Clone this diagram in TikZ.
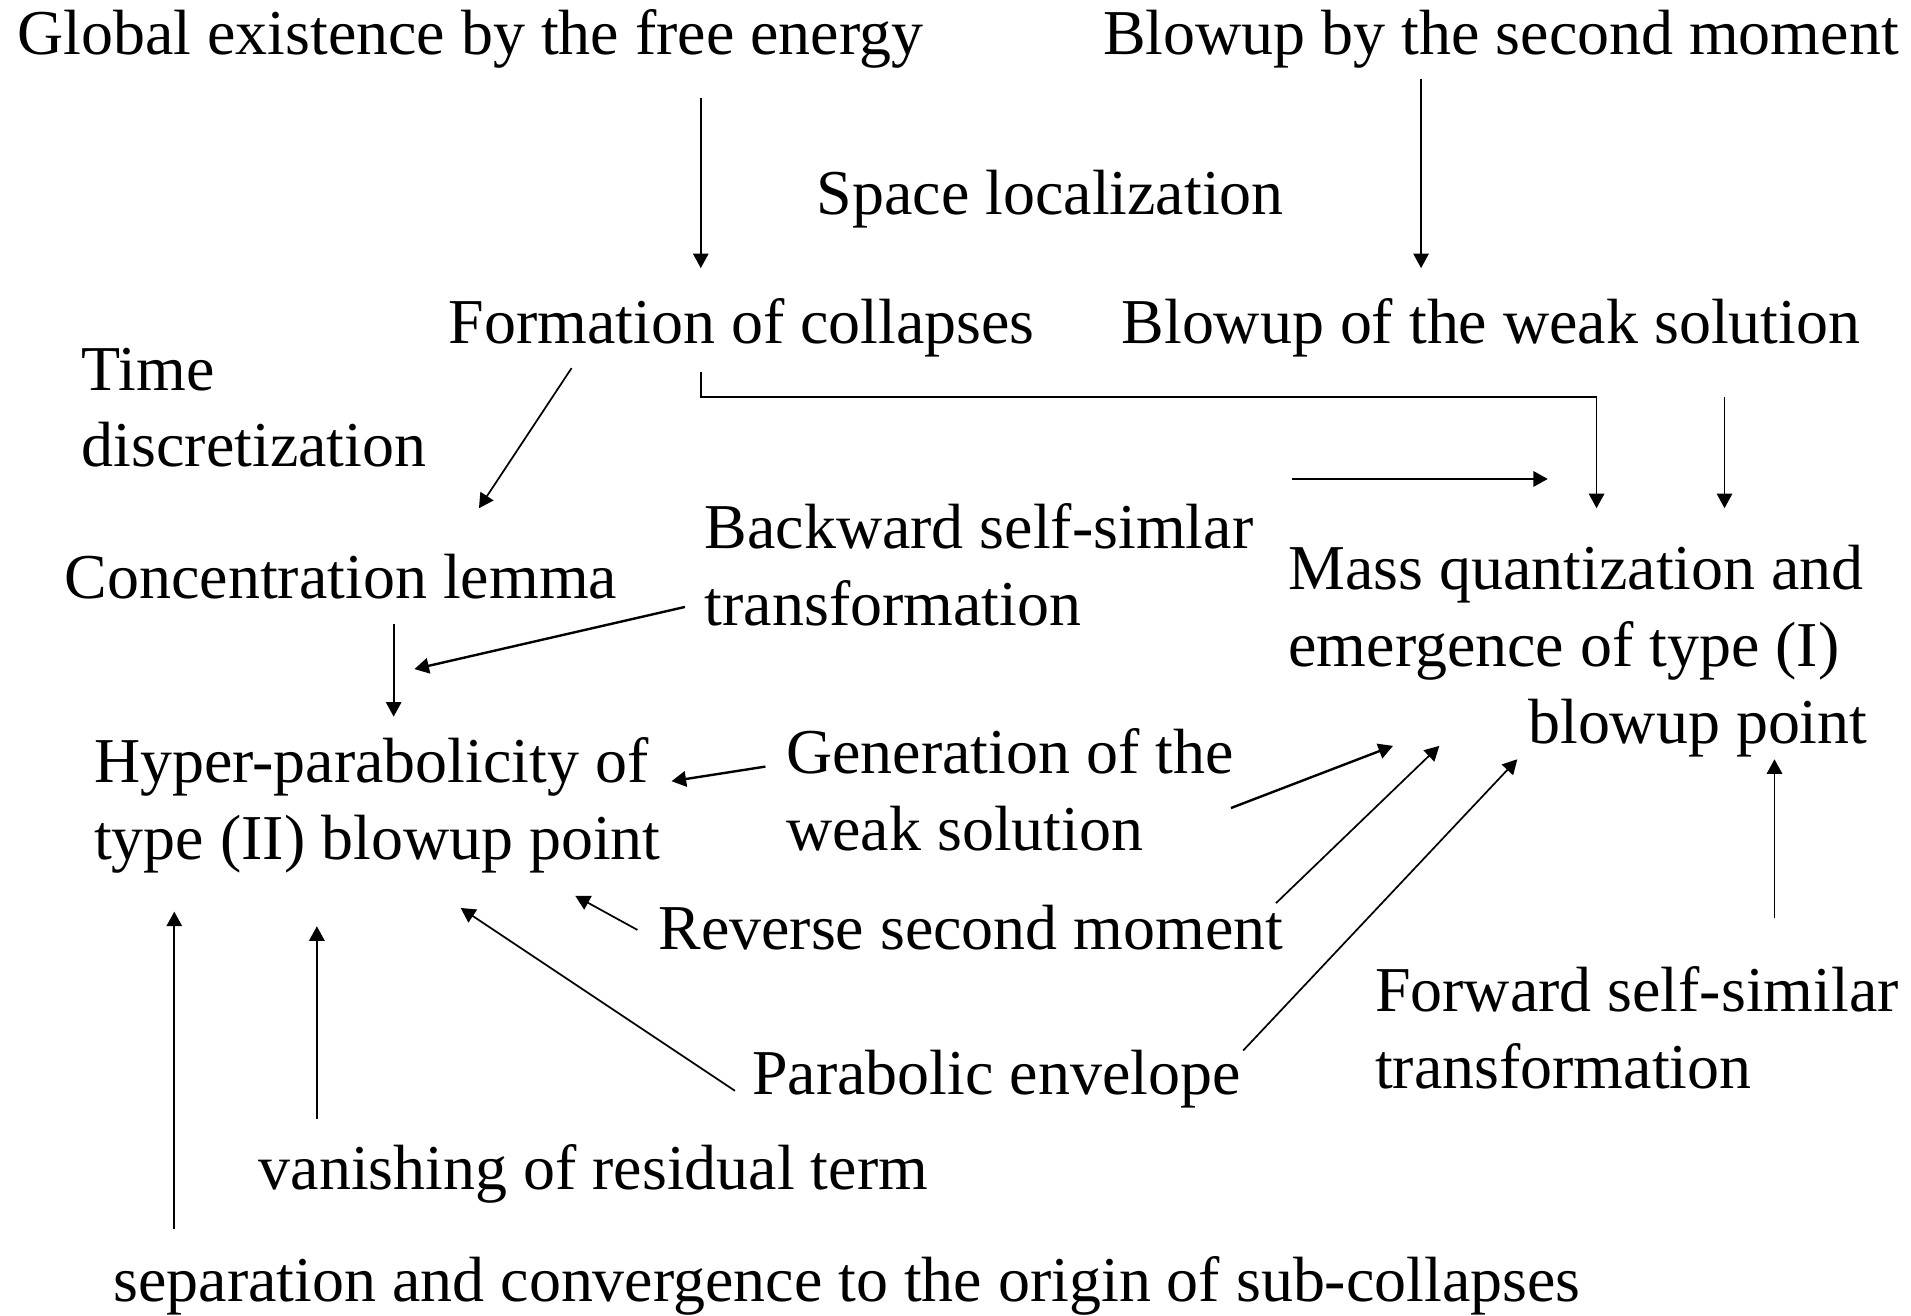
\documentclass[tikz,border=0pt]{standalone}
\usepackage{fontspec}
\setmainfont{Liberation Serif}
\usetikzlibrary{arrows.meta}

\tikzset{
  txt/.style={anchor=base west,inner sep=0pt,font=\fontsize{37.3}{44.8}\selectfont},
  arr/.style={-{Triangle[length=8.5pt,width=9pt]},line width=1pt},
  thickarr/.style={arr,line width=1.4pt}
}

\begin{document}
\begin{tikzpicture}[x=0.025cm,y=-0.025cm]
   \useasboundingbox (0,0) rectangle (1568,1079);
   \node[txt] (glob)  at (14,45)   {Global existence by the free energy};
   \node[txt] (blow2) at (905,45)  {Blowup by the second moment};
   \node[txt] (space) at (670,176) {Space localization};
   \node[txt] (form)  at (368,282) {Formation of collapses};
   \node[txt] (bweak) at (920,282) {Blowup of the weak solution};
   \node[txt,align=left] (time) at (67,383) {Time\\discretization};
   \node[txt] (conc)  at (53,491)  {Concentration lemma};
   \node[txt,align=left] (back) at (578,513) {Backward self-simlar\\transformation};
   \node[txt,align=left] (mass) at (1057,610) {Mass quantization and\\emergence of type (I)\\\hspace*{3.75em}blowup point};
   \node[txt,align=left] (hyper) at (77,705) {Hyper-parabolicity of\\type (II) blowup point};
   \node[txt,align=left] (gen) at (645,698) {Generation of the\\weak solution};
   \node[txt] (rev)   at (540,779) {Reverse second moment};
   \node[txt,align=left] (fwd) at (1128,893) {Forward self-similar\\transformation};
   \node[txt] (para)  at (617,898) {Parabolic envelope};
   \node[txt] (van)   at (212,976) {vanishing of residual term};
   \node[txt] (sep)   at (93,1068) {separation and convergence to the origin of sub-collapses};

   % top part
   \draw[arr] ([shift={(561,35)}]glob.base west) -- ([shift={(207,-62)}]form.base west);
   \draw[arr] ([shift={(261,20)}]blow2.base west) -- ([shift={(246,-62)}]bweak.base west);
   \draw[arr] ([shift={(101,20)}]form.base west) -- ([shift={(340,-74)}]conc.base west);
   \draw[arr] ([shift={(207,23)}]form.base west) -- ++(0,21) -| ([shift={(253,-193)}]mass.base west);
   \draw[arr] ([shift={(495,44)}]bweak.base west) -- ([shift={(358,-193)}]mass.base west);
   \draw[thickarr] ([shift={(482,-120)}]back.base west) -- ([shift={(213,-217)}]mass.base west);

   % into hyper-parabolicity
   \draw[arr] ([shift={(270,21)}]conc.base west) -- ([shift={(246,-117)}]hyper.base west);
   \draw[thickarr] ([shift={(-16,-15)}]back.base west) -- ([shift={(263,-156)}]hyper.base west);
   \draw[thickarr] ([shift={(-17,-69)}]gen.base west) -- ([shift={(474,-64)}]hyper.base west);
   \draw[arr] ([shift={(-17,-16)}]rev.base west) -- ([shift={(395,30)}]hyper.base west);
   \draw[arr] ([shift={(-14,-3)}]para.base west) -- ([shift={(301,40)}]hyper.base west);
   \draw[arr] ([shift={(48,-58)}]van.base west) -- ([shift={(183,55)}]hyper.base west);
   \draw[arr] ([shift={(50,-60)}]sep.base west) -- ([shift={(66,43)}]hyper.base west);

   % into mass quantization
   \draw[thickarr] ([shift={(365,-35)}]gen.base west) -- ([shift={(86,2)}]mass.base west);
   \draw[arr] ([shift={(507,-38)}]rev.base west) -- ([shift={(124,2)}]mass.base west);
   \draw[arr] ([shift={(403,-36)}]para.base west) -- ([shift={(188,13)}]mass.base west);
   \draw[arr] ([shift={(328,-140)}]fwd.base west) -- ([shift={(399,13)}]mass.base west);
\end{tikzpicture}
\end{document}
